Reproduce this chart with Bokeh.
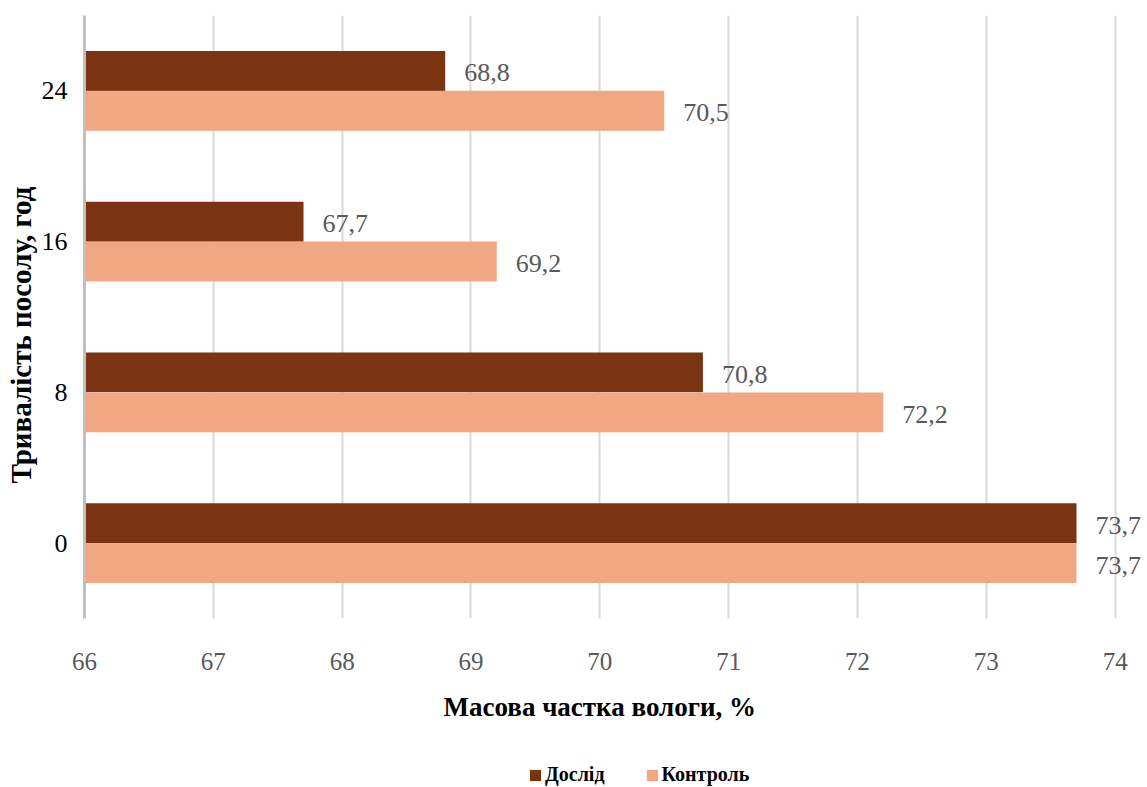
from bokeh.plotting import figure
from bokeh.layouts import column
from bokeh.models import ColumnDataSource, FactorRange, Legend, LegendItem, SingleIntervalTicker, Title
from bokeh.transform import dodge
from bokeh.core.properties import value
from bokeh.embed import file_html
from bokeh.resources import INLINE

# Salting duration (hours) and moisture mass fraction (%)
durations = ["0", "8", "16", "24"]
dosl = [73.7, 70.8, 67.7, 68.8]
kontrol = [73.7, 72.2, 69.2, 70.5]
series_names = ["Дослід", "Контроль"]

DARK = "#7b3411"
LIGHT = "#f0a782"
SERIF = "Liberation Serif"

src = ColumnDataSource(dict(
    cat=durations,
    dosl=dosl,
    kontrol=kontrol,
    dosl_lbl=[f"{v:.1f}".replace(".", ",") for v in dosl],
    kontrol_lbl=[f"{v:.1f}".replace(".", ",") for v in kontrol],
))

p = figure(
    width=1147, height=752,
    y_range=FactorRange(factors=durations, range_padding=0),
    x_range=(66, 74.22),
    output_backend="svg", toolbar_location=None,
    min_border_left=84, min_border_top=15, min_border_right=4,
    min_border_bottom=134,
)
p.outline_line_color = None
p.background_fill_color = "white"
p.border_fill_color = "white"

bar_h = 0.265
off = bar_h / 2
p.hbar(y=dodge("cat", off, range=p.y_range), right="dosl", left=66, height=bar_h,
       source=src, fill_color=DARK, line_color=None)
p.hbar(y=dodge("cat", -off, range=p.y_range), right="kontrol", left=66, height=bar_h,
       source=src, fill_color=LIGHT, line_color=None)

# value labels to the right of each bar
for col, lbl, d in (("dosl", "dosl_lbl", off), ("kontrol", "kontrol_lbl", -off)):
    p.text(x=col, y=dodge("cat", d, range=p.y_range), text=lbl, source=src,
           x_offset=19, y_offset=2, text_align="left", text_baseline="middle",
           text_color="#595959", text_font=value(SERIF), text_font_size="26px")

# x axis
p.xaxis.ticker = SingleIntervalTicker(interval=1)
p.xaxis.axis_line_color = None
p.xaxis.major_tick_line_color = None
p.xaxis.minor_tick_line_color = None
p.xaxis.major_label_text_font = SERIF
p.xaxis.major_label_text_font_size = "25px"
p.xaxis.major_label_text_color = "#595959"
p.xaxis.major_label_standoff = 28

# x axis title, centred under the 66–74 span
p.add_layout(Title(text="Масова частка вологи, %", align="left", offset=359,
                   text_font=SERIF, text_font_size="27px", text_font_style="bold",
                   text_color="black", standoff=35), "below")

# y axis
p.yaxis.axis_line_color = "#bfbfbf"
p.yaxis.axis_line_width = 3
p.yaxis.major_tick_line_color = None
p.yaxis.minor_tick_line_color = None
p.yaxis.major_label_text_font = SERIF
p.yaxis.major_label_text_font_size = "26px"
p.yaxis.major_label_text_color = "black"
p.yaxis.major_label_standoff = 11

# y axis title
p.add_layout(Title(text="Тривалість посолу, год", align="left", offset=135,
                   text_font=SERIF, text_font_size="29px", text_font_style="bold",
                   text_color="black", standoff=3), "left")

p.xgrid.grid_line_color = "#d9d9d9"
p.xgrid.grid_line_width = 2
p.ygrid.grid_line_color = None

# legend strip under the chart (its frame lines up with the chart frame)
lg = figure(
    width=1147, height=35, x_range=(0, 1), y_range=(0, 1),
    x_axis_type=None, y_axis_type=None,
    output_backend="svg", toolbar_location=None, min_border=0,
)
lg.outline_line_color = None
lg.xgrid.grid_line_color = None
lg.ygrid.grid_line_color = None
k1 = lg.hbar(y=[-5], left=[0], right=[1], height=1, fill_color=DARK, line_color=None)
k2 = lg.hbar(y=[-5], left=[0], right=[1], height=1, fill_color=LIGHT, line_color=None)
legend = Legend(
    items=[LegendItem(label=series_names[0], renderers=[k1]),
           LegendItem(label=series_names[1], renderers=[k2])],
    orientation="horizontal", location=(444, 1),
    label_text_font=SERIF, label_text_font_size="20px", label_text_font_style="bold",
    label_text_color="black", glyph_width=14, glyph_height=14,
    spacing=40, padding=0, margin=0, border_line_color=None,
    background_fill_alpha=0, label_standoff=3,
)
lg.add_layout(legend)

open("out.html", "w").write(file_html(column(p, lg, spacing=0), INLINE))
